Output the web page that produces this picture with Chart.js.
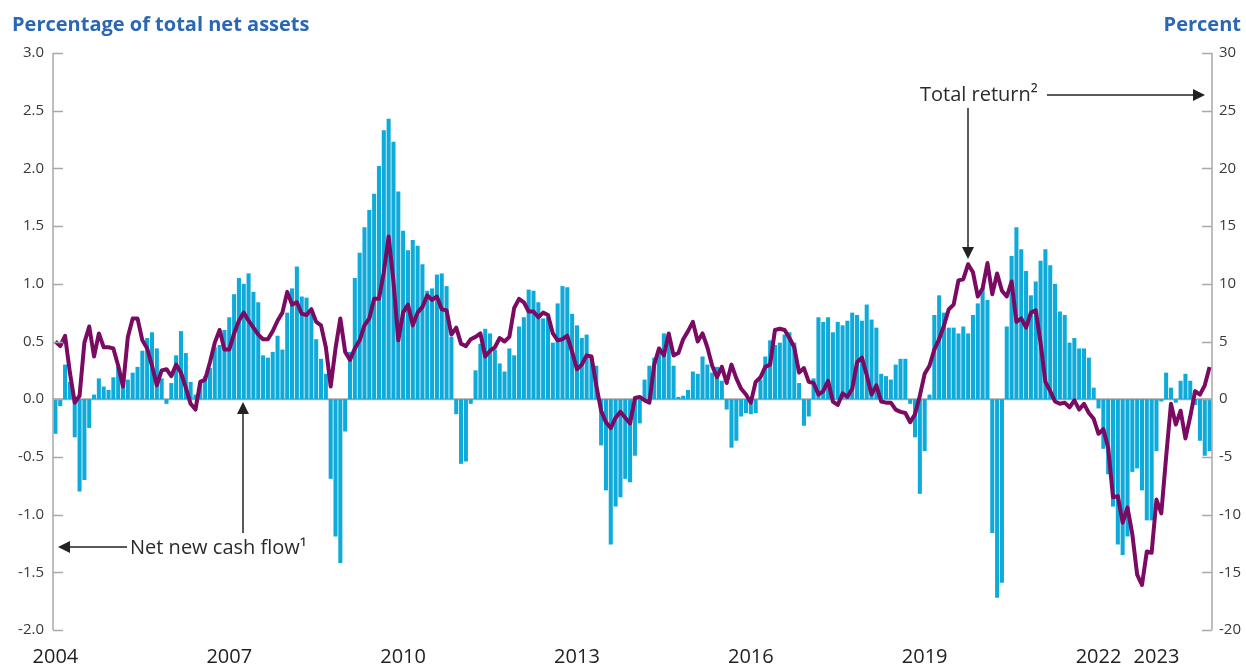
<!DOCTYPE html>
<html>
<head>
<meta charset="utf-8">
<title>Net new cash flow and total return</title>
<script src="https://cdn.jsdelivr.net/npm/chart.js@4.4.1/dist/chart.umd.min.js"></script>
<style>
  html, body { margin: 0; padding: 0; background: #fff; }
  #wrap { width: 1246px; height: 670px; }
</style>
</head>
<body>
<div id="wrap"><canvas id="flowChart" width="1246" height="670"></canvas></div>
<script>
/* ============================================================
   Net new cash flow (bars, left axis) vs total return (line, right axis)
   ============================================================ */

// ── Data ──────────────────────────────────────────────────────
const YEARS = [2004, 2005, 2006, 2007, 2008, 2009, 2010, 2011, 2012, 2013,
               2014, 2015, 2016, 2017, 2018, 2019, 2020, 2021, 2022, 2023];

// one category per month, Jan 2004 .. Dec 2023
const MONTHS = [];
YEARS.forEach(y => { for (let m = 1; m <= 12; m++) MONTHS.push(`${y}-${String(m).padStart(2, '0')}`); });

const YEAR_TICKS = ['2004', '2007', '2010', '2013', '2016', '2019', '2022', '2023'];

// percentage of total net assets, monthly
const CASH_FLOW = [
  -0.30, -0.06,  0.30,  0.15, -0.33, -0.80, -0.70, -0.25,  0.04,  0.18,  0.11,  0.08, // 2004
   0.19,  0.28,  0.20,  0.17,  0.23,  0.28,  0.42,  0.53,  0.58,  0.44,  0.18, -0.04, // 2005
   0.14,  0.38,  0.59,  0.40,  0.15,  0.04,  0.15,  0.20,  0.27,  0.45,  0.47,  0.60, // 2006
   0.71,  0.91,  1.05,  1.00,  1.09,  0.93,  0.84,  0.38,  0.36,  0.41,  0.55,  0.43, // 2007
   0.75,  0.96,  1.15,  0.89,  0.88,  0.74,  0.52,  0.35,  0.22, -0.69, -1.19, -1.42, // 2008
  -0.28,  0.41,  1.05,  1.27,  1.49,  1.64,  1.78,  2.02,  2.33,  2.43,  2.23,  1.80, // 2009
   1.46,  1.29,  1.38,  1.33,  1.17,  0.94,  0.96,  1.08,  1.09,  0.98,  0.54, -0.13, // 2010
  -0.56, -0.54, -0.04,  0.25,  0.48,  0.61,  0.57,  0.43,  0.31,  0.24,  0.44,  0.38, // 2011
   0.63,  0.71,  0.95,  0.94,  0.84,  0.70,  0.71,  0.49,  0.83,  0.98,  0.97,  0.74, // 2012
   0.64,  0.53,  0.56,  0.37,  0.29, -0.40, -0.79, -1.26, -0.93, -0.85, -0.69, -0.72, // 2013
  -0.49, -0.21,  0.17,  0.29,  0.36,  0.44,  0.57,  0.55,  0.29,  0.02,  0.03,  0.08, // 2014
   0.24,  0.22,  0.37,  0.30,  0.23,  0.28,  0.16, -0.09, -0.42, -0.36, -0.15, -0.12, // 2015
  -0.13, -0.12,  0.17,  0.37,  0.51,  0.47,  0.49,  0.56,  0.58,  0.49,  0.14, -0.23, // 2016
  -0.15,  0.18,  0.71,  0.67,  0.71,  0.58,  0.67,  0.64,  0.68,  0.75,  0.73,  0.68, // 2017
   0.82,  0.69,  0.62,  0.22,  0.20,  0.17,  0.30,  0.35,  0.35, -0.04, -0.33, -0.82, // 2018
  -0.45,  0.04,  0.73,  0.90,  0.75,  0.62,  0.62,  0.57,  0.63,  0.57,  0.73,  0.83, // 2019
   0.96,  0.86, -1.16, -1.72, -1.59,  0.63,  1.24,  1.49,  1.30,  1.11,  0.90,  1.02, // 2020
   1.20,  1.30,  1.16,  1.00,  0.76,  0.73,  0.49,  0.53,  0.44,  0.44,  0.36,  0.10, // 2021
  -0.08, -0.43, -0.65, -0.93, -1.26, -1.35, -1.19, -0.63, -0.60, -0.79, -1.05, -1.05, // 2022
  -0.45, -0.02,  0.23,  0.10, -0.03,  0.16,  0.22,  0.16, -0.05, -0.36, -0.49, -0.45  // 2023
];

// total return, percent
const TOTAL_RETURN = [
   5.0,  4.6,  5.5,  2.3, -0.3,  0.3,  4.9,  6.3,  3.7,  5.7,  4.5,  4.5, // 2004
   4.4,  2.9,  1.1,  5.4,  7.0,  7.0,  5.1,  4.4,  2.9,  1.2,  2.5,  2.6, // 2005
   2.0,  3.0,  2.3,  1.0, -0.4, -0.9,  1.5,  1.7,  3.2,  4.9,  6.0,  4.3, // 2006
   4.3,  5.7,  6.8,  7.5,  6.8,  6.2,  5.6,  5.2,  5.2,  5.9,  6.8,  7.5, // 2007
   9.3,  8.2,  8.4,  7.4,  7.3,  7.8,  6.7,  6.4,  4.5,  1.1,  4.4,  7.0, // 2008
   4.1,  3.4,  4.4,  5.1,  6.4,  7.0,  8.7,  8.7, 11.0, 14.1, 10.2,  5.1, // 2009
   7.5,  8.2,  6.4,  7.5,  8.0,  9.0,  8.6,  8.9,  7.8,  7.7,  5.6,  6.2, // 2010
   4.8,  4.6,  5.2,  5.4,  5.7,  3.7,  4.2,  4.5,  5.3,  5.0,  5.4,  7.9, // 2011
   8.7,  8.4,  7.6,  7.6,  7.1,  7.5,  7.3,  5.7,  5.1,  5.2,  5.5,  4.1, // 2012
   2.6,  3.0,  3.8,  3.7,  1.2, -1.0, -2.0, -2.5, -1.6, -1.1, -1.6, -2.1, // 2013
   0.1,  0.2, -0.1, -0.3,  3.0,  4.4,  3.8,  5.7,  3.8,  4.0,  5.2,  5.9, // 2014
   6.7,  5.0,  5.7,  4.5,  2.9,  1.9,  2.8,  1.4,  3.0,  1.8,  0.9,  0.4, // 2015
  -0.3,  1.5,  1.9,  2.8,  3.0,  6.0,  6.1,  6.0,  5.3,  4.5,  2.3,  2.7, // 2016
   1.5,  1.4,  0.4,  0.7,  1.6, -0.2, -0.5,  0.5,  0.2,  0.9,  3.2,  3.6, // 2017
   2.1,  0.4,  1.2, -0.2, -0.3, -0.3, -0.9, -1.1, -1.2, -2.0, -1.3,  0.3, // 2018
   2.2,  2.9,  4.3,  5.2,  6.4,  7.8,  8.2, 10.3, 10.4, 11.7, 11.0,  8.9, // 2019
   9.6, 11.8,  9.1, 10.9,  9.4,  8.9, 10.2,  6.7,  7.0,  6.2,  7.5,  7.7, // 2020
   4.9,  1.5,  0.7, -0.2, -0.4, -0.3, -0.7, -0.1, -0.9, -0.4, -1.2, -1.7, // 2021
  -3.0, -2.6, -4.2, -8.5, -8.4,-10.7, -9.4,-11.7,-15.2,-16.1,-13.2,-13.3, // 2022
  -8.7, -9.9, -5.0, -0.4, -2.2, -1.0, -3.4, -1.5,  0.7,  0.4,  1.2,  2.8  // 2023
];

// ── Styling ───────────────────────────────────────────────────
const FONT = "'Open Sans', 'Noto Sans', sans-serif";
const BAR_COLOR = '#0eaad9';
const LINE_COLOR = '#7a0a62';
const AXIS_COLOR = '#a9a9a9';
const TEXT_COLOR = '#2b2b2b';
const TITLE_COLOR = '#2a68b3';

// ── Frame: axis lines, inward ticks, zero line, headers, callouts ──
const framePlugin = {
  id: 'frame',
  beforeDatasetsDraw(chart) {
    const { ctx, chartArea: a, scales: { y } } = chart;
    const y0 = y.getPixelForValue(0);
    ctx.save();
    ctx.strokeStyle = AXIS_COLOR;
    ctx.lineWidth = 2;
    ctx.beginPath();
    ctx.moveTo(a.left, y0);
    ctx.lineTo(a.right, y0);
    ctx.stroke();
    ctx.restore();
  },
  afterDatasetsDraw(chart) {
    const { ctx, chartArea: a, scales: { y, y2 } } = chart;
    ctx.save();

    // axis lines + ticks pointing into the plot
    ctx.strokeStyle = AXIS_COLOR;
    ctx.lineWidth = 1.5;
    ctx.beginPath();
    ctx.moveTo(a.left, a.top); ctx.lineTo(a.left, a.bottom);
    ctx.moveTo(a.right, a.top); ctx.lineTo(a.right, a.bottom);
    y.ticks.forEach(t => {
      const py = Math.round(y.getPixelForValue(t.value)) + 0.5;
      ctx.moveTo(a.left, py); ctx.lineTo(a.left + 10, py);
    });
    y2.ticks.forEach(t => {
      const py = Math.round(y2.getPixelForValue(t.value)) + 0.5;
      ctx.moveTo(a.right - 10, py); ctx.lineTo(a.right, py);
    });
    ctx.stroke();

    // axis headers
    ctx.fillStyle = TITLE_COLOR;
    ctx.font = `bold 20px ${FONT}`;
    ctx.textBaseline = 'alphabetic';
    ctx.textAlign = 'left';
    ctx.fillText('Percentage of total net assets', 12, 31);
    ctx.textAlign = 'right';
    ctx.fillText('Percent', 1241, 31);

    // callouts
    ctx.fillStyle = TEXT_COLOR;
    ctx.font = `20px ${FONT}`;
    ctx.textBaseline = 'middle';
    ctx.textAlign = 'left';
    ctx.fillText('Total return\u00b2', 920, 95);
    ctx.fillText('Net new cash flow\u00b9', 130, 548);

    arrow(ctx, 1047, 95, 1205, 95);
    arrow(ctx, 968, 108, 968, 259);
    arrow(ctx, 127, 547, 58, 547);
    arrow(ctx, 243, 533, 243, 402);

    ctx.restore();
  }
};

function arrow(ctx, x1, y1, x2, y2) {
  const ang = Math.atan2(y2 - y1, x2 - x1);
  const len = 12, half = 6;
  ctx.save();
  ctx.strokeStyle = '#222';
  ctx.fillStyle = '#222';
  ctx.lineWidth = 1.5;
  ctx.beginPath();
  ctx.moveTo(x1, y1);
  ctx.lineTo(x2 - Math.cos(ang) * len, y2 - Math.sin(ang) * len);
  ctx.stroke();
  ctx.beginPath();
  ctx.moveTo(x2, y2);
  ctx.lineTo(x2 - Math.cos(ang) * len - Math.sin(ang) * half, y2 - Math.sin(ang) * len + Math.cos(ang) * half);
  ctx.lineTo(x2 - Math.cos(ang) * len + Math.sin(ang) * half, y2 - Math.sin(ang) * len - Math.cos(ang) * half);
  ctx.closePath();
  ctx.fill();
  ctx.restore();
}

// ── Chart ─────────────────────────────────────────────────────
function renderFlowChart() {
  const canvas = document.getElementById('flowChart');
  if (!canvas || typeof Chart === 'undefined') return;

  new Chart(canvas, {
    data: {
      labels: MONTHS,
      datasets: [
        {
          type: 'line',
          label: 'Total return',
          data: TOTAL_RETURN,
          yAxisID: 'y2',
          borderColor: LINE_COLOR,
          borderWidth: 4,
          pointRadius: 0,
          tension: 0,
          borderJoinStyle: 'round',
          order: 0
        },
        {
          type: 'bar',
          label: 'Net new cash flow',
          data: CASH_FLOW,
          yAxisID: 'y',
          backgroundColor: BAR_COLOR,
          barPercentage: 0.84,
          categoryPercentage: 1.0,
          order: 1
        }
      ]
    },
    options: {
      responsive: false,
      animation: false,
      devicePixelRatio: 1,
      layout: { padding: { top: 53, left: 0, right: 0, bottom: 0 } },
      plugins: {
        legend: { display: false },
        tooltip: { enabled: false }
      },
      scales: {
        x: {
          type: 'category',
          offset: true,
          grid: { display: false, drawTicks: false },
          border: { display: false },
          ticks: {
            autoSkip: false,
            maxRotation: 0,
            padding: 15,
            color: '#222',
            font: { family: FONT, size: 20 },
            callback: (v, i) => {
              const m = MONTHS[i];
              return m.endsWith('-01') && YEAR_TICKS.includes(m.slice(0, 4)) ? m.slice(0, 4) : '';
            }
          },
          afterFit: s => { s.height = 40; }
        },
        y: {
          position: 'left',
          min: -2, max: 3,
          grid: { display: false, drawTicks: false },
          border: { display: false },
          ticks: {
            stepSize: 0.5,
            padding: 9,
            color: '#3a3a3a',
            font: { family: FONT, size: 15 },
            callback: v => v.toFixed(1)
          },
          afterFit: s => { s.width = 53; }
        },
        y2: {
          position: 'right',
          min: -20, max: 30,
          grid: { display: false, drawTicks: false },
          border: { display: false },
          ticks: {
            stepSize: 5,
            padding: 7,
            color: '#3a3a3a',
            font: { family: FONT, size: 15 }
          },
          afterFit: s => { s.width = 34; }
        }
      }
    },
    plugins: [framePlugin]
  });
}

document.addEventListener('DOMContentLoaded', renderFlowChart);
</script>
</body>
</html>
